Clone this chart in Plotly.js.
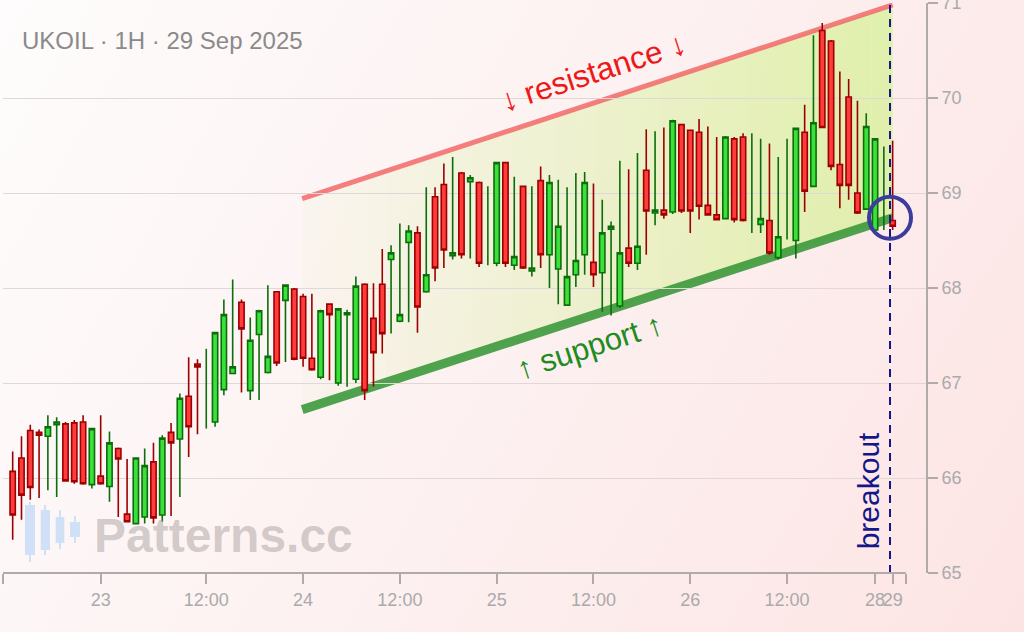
<!DOCTYPE html>
<html><head><meta charset="utf-8">
<script src="https://cdn.plot.ly/plotly-3.0.1.min.js"></script>
<style>
html,body{margin:0;padding:0;width:1024px;height:632px;overflow:hidden;
background:linear-gradient(120deg,#fefcfc 0%,#fdf2f2 45%,#fde4e4 100%);}
#chart{width:1024px;height:632px;}
</style></head><body><div id="chart"></div>
<script>
// Hourly UKOIL candles (index 0..100)
const openP  = [66.07,66.21,66.50,66.48,66.44,66.56,66.57,66.58,66.59,65.93,
                66.02,65.91,66.31,65.62,65.52,65.59,66.17,65.61,66.48,66.41,
                66.86,67.20,66.52,66.59,66.93,67.10,67.85,66.92,67.51,67.11,
                67.96,67.87,67.99,67.91,67.26,67.06,67.83,67.00,67.72,67.04,
                68.04,67.68,68.04,68.30,67.65,68.48,68.58,67.96,68.96,69.09,
                68.34,69.21,69.12,69.11,68.24,68.26,69.32,68.24,69.07,68.18,
                69.13,68.35,68.20,67.82,68.14,68.35,68.27,68.16,68.62,67.81,
                68.42,68.26,69.24,68.79,68.82,68.80,69.72,69.66,69.64,68.87,
                68.77,68.73,69.57,69.59,68.58,68.67,68.71,68.32,68.51,68.50,
                69.64,69.07,70.71,70.60,69.30,70.01,69.00,68.83,68.61,68.61,
                68.71];
const highP  = [66.28,66.44,66.56,66.51,66.66,66.64,66.59,66.61,66.66,66.53,
                66.66,66.49,66.32,66.20,66.21,66.31,66.37,66.45,66.58,66.89,
                67.27,67.25,67.36,67.54,67.88,68.09,67.88,67.69,67.77,68.03,
                67.96,68.04,68.00,67.94,67.94,67.77,67.84,67.79,67.77,68.12,
                68.05,68.05,68.41,68.45,68.68,68.66,68.65,69.06,69.06,69.31,
                69.38,69.22,69.19,69.12,69.07,69.33,69.33,69.17,69.07,69.07,
                69.28,69.19,69.14,69.06,69.21,69.22,69.10,68.93,68.70,69.34,
                69.25,69.42,69.67,69.65,69.69,69.77,69.73,69.66,69.78,69.70,
                69.59,69.60,69.59,69.63,69.63,69.57,69.52,69.38,69.57,69.69,
                69.93,70.66,70.79,70.61,70.28,70.20,69.97,69.84,69.57,69.49,
                69.55];
const lowP   = [65.35,65.56,65.77,65.79,65.87,65.80,65.96,65.94,65.93,65.89,
                65.93,65.75,65.59,65.54,65.52,65.52,65.52,65.54,65.60,65.80,
                66.22,66.46,66.52,66.54,66.87,67.10,66.90,66.82,66.82,67.10,
                67.18,67.22,67.24,67.17,67.13,67.04,67.03,66.97,66.96,67.00,
                66.82,66.96,67.31,67.52,67.64,67.64,67.53,67.95,68.07,68.21,
                68.30,68.31,68.31,68.22,68.24,68.23,68.22,68.19,68.20,68.12,
                68.21,68.00,67.83,67.82,68.01,68.14,68.01,67.75,67.71,67.79,
                68.22,68.19,68.35,68.66,68.73,68.78,68.79,68.58,68.72,68.76,
                68.71,68.72,68.69,68.70,68.58,68.58,68.35,68.30,68.51,68.31,
                68.80,69.06,69.69,69.24,68.84,68.93,68.78,68.82,68.59,68.61,
                68.61];
const closeP = [65.61,65.82,65.90,66.45,66.54,66.59,65.97,65.96,65.94,66.52,
                65.94,66.37,66.20,65.54,66.21,66.13,65.58,66.42,66.37,66.84,
                66.54,67.17,67.36,67.53,67.72,67.17,67.57,67.45,67.76,67.28,
                67.21,68.03,67.25,67.26,67.14,67.76,67.72,67.78,67.74,68.02,
                66.92,67.32,67.52,68.37,67.72,68.60,67.80,68.14,68.21,68.40,
                68.37,68.35,69.16,68.26,69.07,69.32,68.26,68.33,68.21,68.21,
                68.35,69.11,68.65,68.12,68.29,69.11,68.14,68.58,68.65,68.37,
                68.26,68.44,68.81,68.82,68.77,69.76,68.81,68.81,68.86,68.77,
                68.72,69.59,68.72,68.71,69.63,68.73,68.37,68.54,69.57,69.68,
                69.02,69.74,69.69,69.28,69.08,69.08,68.79,69.70,69.57,69.49,
                68.65];
// candles drawn as a bare wick (no body) in the reference
const lineOnly = [22,54,84,88,99];

const tickPos  = [10,22,33,44,55,66,77,88,98,100];
const tickText = ['23','12:00','24','12:00','25','12:00','26','12:00','28','29'];
const yTicks   = [65,66,67,68,69,70,71];

const resistance = [32.9,68.94,100,70.98];   // x0,y0,x1,y1
const support    = [32.9,66.72,100,68.74];
const breakout   = [99.7,68.74];

const FONT = 'Liberation Sans, Arial, sans-serif';
const idx = openP.map((_,i)=>i);
const isLine = i => lineOnly.includes(i);
const cIdx = idx.filter(i=>!isLine(i));
const lIdx = idx.filter(isLine);
const pick = (arr, ids) => ids.map(i=>arr[i]);

const candles = {
  type:'candlestick', x:cIdx, open:pick(openP,cIdx), high:pick(highP,cIdx),
  low:pick(lowP,cIdx), close:pick(closeP,cIdx),
  increasing:{line:{color:'#0b6e0b',width:1.6},fillcolor:'#3be03b'},
  decreasing:{line:{color:'#9c0000',width:1.6},fillcolor:'#ff3b3b'},
  whiskerwidth:0, hoverinfo:'skip'
};
const wicks = {
  type:'ohlc', x:lIdx, open:pick(openP,lIdx), high:pick(highP,lIdx),
  low:pick(lowP,lIdx), close:pick(closeP,lIdx), tickwidth:0,
  increasing:{line:{color:'#0b6e0b',width:1.6}},
  decreasing:{line:{color:'#9c0000',width:1.6}}, hoverinfo:'skip'
};

// channel fill as gradient slices
const lerp=(L,x)=>L[1]+(L[3]-L[1])*(x-L[0])/(L[2]-L[0]);
const shapes=[];
const N=28;
for(let k=0;k<N;k++){
  const xa=resistance[0]+(resistance[2]-resistance[0])*k/N;
  const xb=resistance[0]+(resistance[2]-resistance[0])*(k+1)/N;
  shapes.push({type:'path',xref:'x',yref:'y',layer:'below',
    path:`M${xa},${lerp(support,xa)} L${xa},${lerp(resistance,xa)} L${xb},${lerp(resistance,xb)} L${xb},${lerp(support,xb)} Z`,
    fillcolor:'rgb(200,242,120)',opacity:0.04+0.52*(k+0.5)/N,line:{width:0}});
}
shapes.push({type:'line',xref:'x',yref:'y',layer:'below',x0:resistance[0],y0:resistance[1],x1:resistance[2],y1:resistance[3],
  line:{color:'rgba(242,105,105,0.85)',width:5}});
shapes.push({type:'line',xref:'x',yref:'y',layer:'below',x0:support[0],y0:support[1],x1:support[2],y1:support[3],
  line:{color:'rgba(55,150,55,0.88)',width:9}});
shapes.push({type:'line',xref:'x',yref:'paper',x0:breakout[0],x1:breakout[0],y0:0,y1:1,
  line:{color:'#161688',width:2,dash:'8px,6px'}});
shapes.push({type:'circle',xref:'x',yref:'y',xsizemode:'pixel',ysizemode:'pixel',
  xanchor:breakout[0],yanchor:breakout[1],x0:-21,x1:21,y0:-21,y1:21,
  line:{color:'#3c3c9c',width:4}});
// x axis line
shapes.push({type:'line',xref:'x',yref:'paper',x0:-1.1,x1:101.5,y0:0,y1:0,line:{color:'#b0aaaa',width:2}});

// watermark icon (paper coords from pixels)
const PX=p=>(p-3)/923, PY=p=>(573-p)/570;
const icon=[[30,25,35,502,562,505,555],[45,40.7,50,505,555,510,550],[60,55.7,64.3,510,549,517,543],[75,70,80,516,543,522,537]];
icon.forEach(c=>{
  shapes.push({type:'line',xref:'paper',yref:'paper',x0:PX(c[0]),x1:PX(c[0]),y0:PY(c[3]),y1:PY(c[4]),line:{color:'#cfe0f7',width:2}});
  shapes.push({type:'rect',xref:'paper',yref:'paper',x0:PX(c[1]),x1:PX(c[2]),y0:PY(c[5]),y1:PY(c[6]),fillcolor:'#cfe0f7',line:{width:0}});
});

const annotations=[
  {text:'UKOIL · 1H · 29 Sep 2025',xref:'paper',yref:'paper',x:PX(20),y:PY(41),xanchor:'left',yanchor:'middle',
   showarrow:false,font:{family:FONT,size:24,color:'#8a8a8a'}},
  {text:'<b>Patterns.cc</b>',xref:'paper',yref:'paper',x:PX(92),y:PY(535),xanchor:'left',yanchor:'middle',
   showarrow:false,font:{family:FONT,size:48,color:'rgba(160,150,150,0.45)'}},
  {text:'↓ resistance ↓',xref:'x',yref:'y',x:65.95,y:70.27,textangle:-18,showarrow:false,
   font:{family:FONT,size:31.5,color:'#ee1818'}},
  {text:'↑ support ↑',xref:'x',yref:'y',x:65.6,y:67.38,textangle:-18,showarrow:false,
   font:{family:FONT,size:31,color:'#1e8c1e'}},
  {text:'breakout',xref:'x',yref:'y',x:97.2,y:65.86,textangle:-90,showarrow:false,
   font:{family:FONT,size:30,color:'#161688'}}
];

const layout={
  width:1024,height:632,margin:{l:3,r:98,t:3,b:59},
  paper_bgcolor:'rgba(0,0,0,0)',plot_bgcolor:'rgba(0,0,0,0)',showlegend:false,
  font:{family:FONT}, boxgap:0.14, boxmode:'overlay',
  xaxis:{range:[-1.1,103.79],tickmode:'array',tickvals:[-1.1].concat(tickPos,[101.5]),ticktext:[''].concat(tickText,['']),
    tickangle:0,ticks:'outside',ticklen:10,tickwidth:2,tickcolor:'#b0aaaa',tickfont:{size:18,color:'#aaaaaa'},
    showgrid:false,zeroline:false,showline:false,rangeslider:{visible:false},fixedrange:true},
  yaxis:{side:'right',range:[65,71],tickmode:'array',tickvals:yTicks,ticks:'outside',ticklen:10,tickwidth:2,
    tickcolor:'#b0aaaa',showline:true,linecolor:'#b0aaaa',linewidth:2,gridcolor:'#e0d8d8',gridwidth:1,
    ticklabeloverflow:'allow',
    tickfont:{size:18,color:'#aaaaaa'},zeroline:false,fixedrange:true},
  shapes:shapes,annotations:annotations
};
Plotly.newPlot('chart',[candles,wicks],layout,{staticPlot:true});
</script></body></html>
